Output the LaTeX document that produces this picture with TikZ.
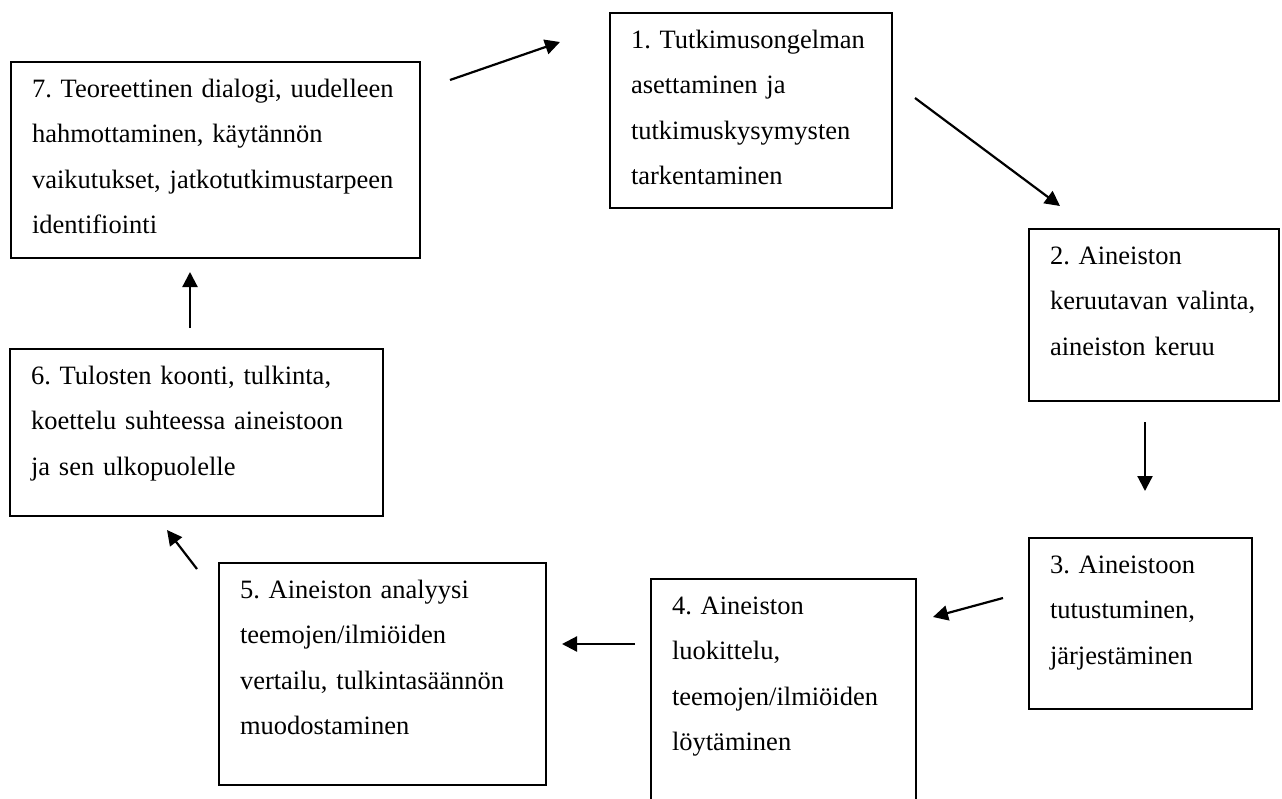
\documentclass[tikz,border=0pt]{standalone}
\usepackage{fontspec}
\setmainfont{Liberation Serif}
\usetikzlibrary{arrows.meta}

\begin{document}
\begin{tikzpicture}[x=1pt,y=-1pt,
                    stage/.style={draw,line width=2pt,anchor=north west,align=left,
                        inner xsep=21pt,inner ysep=0pt,text height=35pt,
                        font=\fontsize{26.5pt}{45.5pt}\selectfont\frenchspacing},
                    flow/.style={line width=2.2pt,-{Triangle[length=15pt,width=15pt]}}]

        \useasboundingbox (0,0) rectangle (1282,798);
        \clip (0,0) rectangle (1282,798);

        \node[stage,text width=240pt,text depth=160pt] (s1) at (609,12)
            {1. Tutkimusongelman\\asettaminen ja\\tutkimuskysymysten\\tarkentaminen};
        \node[stage,text width=208pt,text depth=137pt] (s2) at (1028,228)
            {2. Aineiston\\keruutavan valinta,\\aineiston keruu};
        \node[stage,text width=181pt,text depth=136pt] (s3) at (1028,537)
            {3. Aineistoon\\tutustuminen,\\järjestäminen};
        \node[stage,text width=223pt,text depth=225pt] (s4) at (650,578)
            {4. Aineiston\\luokittelu,\\teemojen/ilmiöiden\\löytäminen};
        \node[stage,text width=285pt,text depth=187pt] (s5) at (218,562)
            {5. Aineiston analyysi\\teemojen/ilmiöiden\\vertailu, tulkintasäännön\\muodostaminen};
        \node[stage,text width=331pt,text depth=132pt] (s6) at (9,348)
            {6. Tulosten koonti, tulkinta,\\koettelu suhteessa aineistoon\\ja sen ulkopuolelle};
        \node[stage,text width=367pt,text depth=161pt] (s7) at (10,61)
            {7. Teoreettinen dialogi, uudelleen\\hahmottaminen, käytännön\\vaikutukset, jatkotutkimustarpeen\\identifiointi};

        % free arrow ends between the boxes
        \coordinate (o7) at (450,80);   \coordinate (i1) at (560,42);
        \coordinate (o1) at (915,98);   \coordinate (i2) at (1060,206);
        \coordinate (o2) at (1145,422); \coordinate (i3) at (1145,491);
        \coordinate (o3) at (1003,598); \coordinate (i4) at (933,617);
        \coordinate (o4) at (635,644);  \coordinate (i5) at (562,644);
        \coordinate (o5) at (197,569);  \coordinate (i6) at (167,530);
        \coordinate (o6) at (190,328);  \coordinate (i7) at (190,272);

        \path[flow] (o7) edge (i1)
                    (o1) edge (i2)
                    (o2) edge (i3)
                    (o3) edge (i4)
                    (o4) edge (i5)
                    (o5) edge (i6)
                    (o6) edge (i7);

\end{tikzpicture}
\end{document}
